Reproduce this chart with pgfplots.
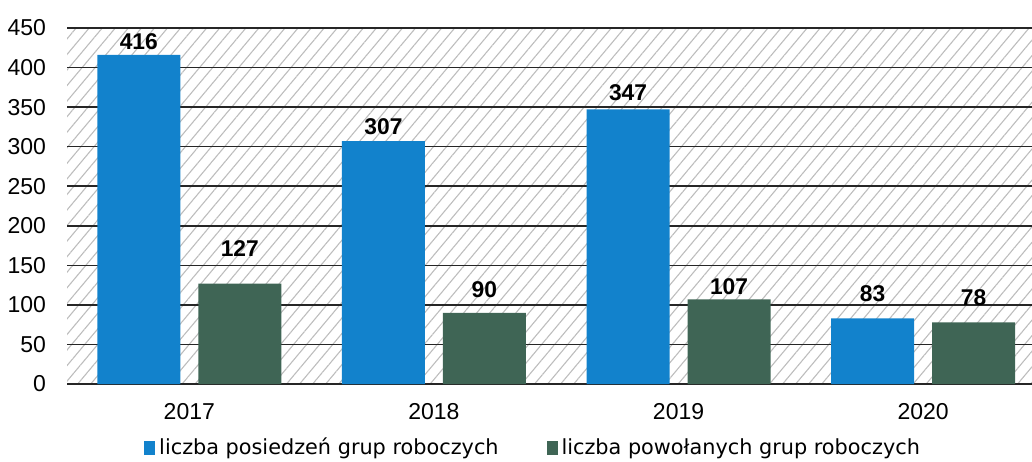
\documentclass[border=0pt]{standalone}
\usepackage{pgfplots}
\usepackage{pgfplotstable}
\pgfplotsset{compat=1.18}
\usepackage{fontspec}
\setmainfont{DejaVu Sans}
\newfontfamily\numfont{Liberation Sans}
\usetikzlibrary{patterns.meta}
\definecolor{barblue}{HTML}{1282CC}
\definecolor{bargreen}{HTML}{3F6555}
\definecolor{hatch}{HTML}{BDBDBD}
\pgfplotstableread{
x y off
0 416 6.5
1 307 7
2 347 8.5
3 83 12.5
}\posiedzenia
\pgfplotstableread{
x y off
0 127 17.5
1 90 11.5
2 107 6.5
3 78 12.5
}\powolane
\begin{document}
\begin{tikzpicture}
\begin{axis}[
  scale only axis,
  width=482.5pt, height=178pt,
  ymin=0, ymax=450,
  xmin=-0.5, xmax=3.445,
  ytick={0,50,...,450},
  xtick={0,1,2,3},
  xticklabels={2017,2018,2019,2020},
  axis line style={draw=none},
  major tick length=0pt,
  ymajorgrids,
  grid style={black!85, line width=0.75pt},
  axis background/.style={pattern={Lines[angle=50,distance=5pt,line width=0.55pt]}, pattern color=hatch},
  ybar, bar width=41.5pt,
  tick label style={font=\numfont\fontsize{11.5}{13}\selectfont},
  /pgf/number format/assume math mode=true,
  yticklabel style={xshift=-7pt},
  xticklabel style={yshift=-6pt},
  nodes near coords,
  visualization depends on={\thisrow{off} \as \off},
  nodes near coords style={font=\numfont\fontsize{11.4}{13}\selectfont\bfseries, anchor=center, yshift=\off pt},
  legend columns=2,
  legend style={at={(0.484,-0.18)}, anchor=center, draw=none, fill=none,
    font=\fontsize{10.4}{12}\selectfont, /tikz/every even column/.append style={column sep=22pt}},
  legend image code/.code={\fill[#1] (0pt,-3.3pt) rectangle (5.5pt,3.3pt);},
  clip=false,
]
\addplot[fill=barblue, draw=none, bar shift=-25.25pt] table[x=x,y=y] {\posiedzenia};
\addplot[fill=bargreen, draw=none, bar shift=25.25pt] table[x=x,y=y] {\powolane};
\legend{liczba posiedzeń grup roboczych, liczba powołanych grup roboczych}
\end{axis}
\pgfresetboundingbox
\path[use as bounding box] (-33.5pt,-38.5pt) rectangle (482.5pt,192pt);
\end{tikzpicture}
\end{document}
